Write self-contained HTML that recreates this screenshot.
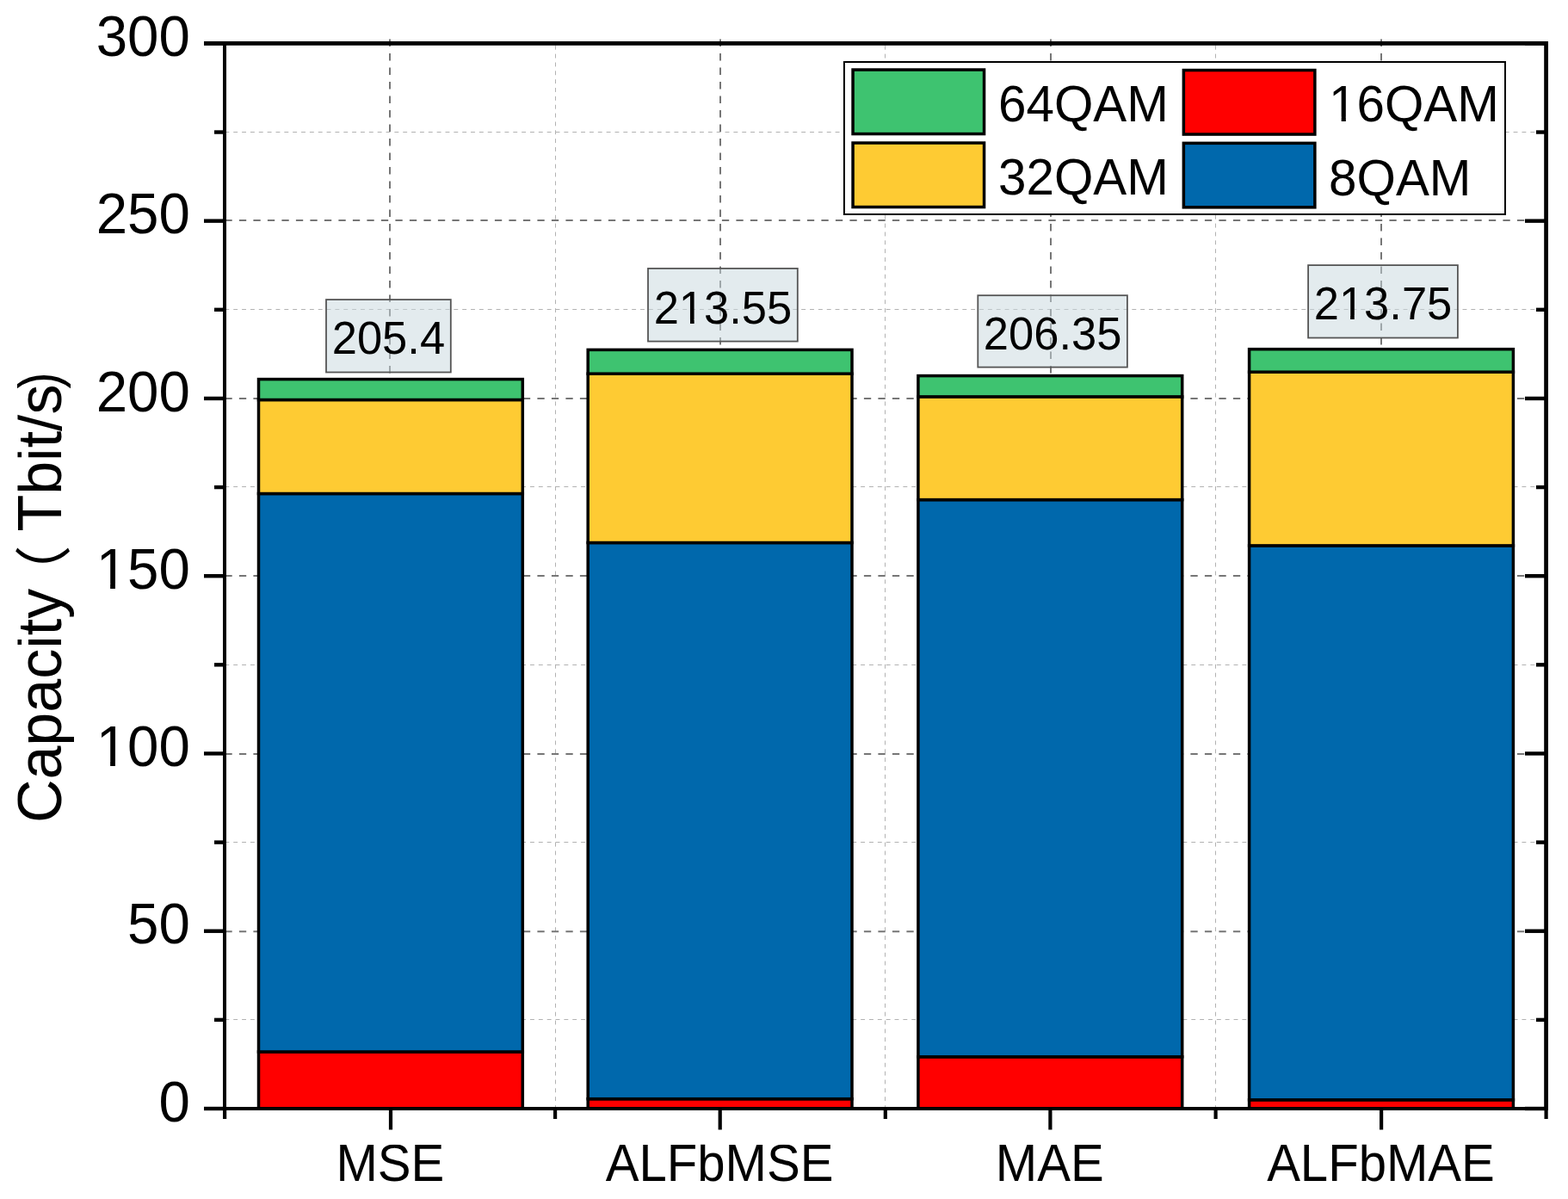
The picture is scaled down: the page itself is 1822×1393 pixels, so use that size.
<!DOCTYPE html>
<html><head><meta charset="utf-8"><title>Capacity chart</title>
<style>html,body{margin:0;padding:0;background:#fff;}svg{display:block;}</style>
</head><body>
<svg width="1822" height="1393" viewBox="0 0 1822 1393">
<rect x="0" y="0" width="1822" height="1393" fill="#fff"/>
<line x1="261.4" y1="1184.50" x2="1794.0" y2="1184.50" stroke="#b2b2b2" stroke-width="1" stroke-dasharray="4.9 4.95"/><line x1="261.4" y1="978.50" x2="1794.0" y2="978.50" stroke="#b2b2b2" stroke-width="1" stroke-dasharray="4.9 4.95"/><line x1="261.4" y1="772.50" x2="1794.0" y2="772.50" stroke="#b2b2b2" stroke-width="1" stroke-dasharray="4.9 4.95"/><line x1="261.4" y1="565.50" x2="1794.0" y2="565.50" stroke="#b2b2b2" stroke-width="1" stroke-dasharray="4.9 4.95"/><line x1="261.4" y1="359.50" x2="1794.0" y2="359.50" stroke="#b2b2b2" stroke-width="1" stroke-dasharray="4.9 4.95"/><line x1="261.4" y1="153.50" x2="1794.0" y2="153.50" stroke="#b2b2b2" stroke-width="1" stroke-dasharray="4.9 4.95"/><line x1="645.50" y1="52.8" x2="645.50" y2="1286.0" stroke="#b2b2b2" stroke-width="1" stroke-dasharray="4.9 4.95"/><line x1="1028.50" y1="52.8" x2="1028.50" y2="1286.0" stroke="#b2b2b2" stroke-width="1" stroke-dasharray="4.9 4.95"/><line x1="1412.50" y1="52.8" x2="1412.50" y2="1286.0" stroke="#b2b2b2" stroke-width="1" stroke-dasharray="4.9 4.95"/><line x1="261.4" y1="1082.30" x2="1794.0" y2="1082.30" stroke="#767676" stroke-width="2" stroke-dasharray="8.3 8.2"/><line x1="261.4" y1="876.00" x2="1794.0" y2="876.00" stroke="#767676" stroke-width="2" stroke-dasharray="8.3 8.2"/><line x1="261.4" y1="669.00" x2="1794.0" y2="669.00" stroke="#767676" stroke-width="2" stroke-dasharray="8.3 8.2"/><line x1="261.4" y1="463.00" x2="1794.0" y2="463.00" stroke="#767676" stroke-width="2" stroke-dasharray="8.3 8.2"/><line x1="261.4" y1="256.00" x2="1794.0" y2="256.00" stroke="#767676" stroke-width="2" stroke-dasharray="8.3 8.2"/><line x1="453.00" y1="45.6" x2="453.00" y2="1286.0" stroke="#767676" stroke-width="2" stroke-dasharray="8.3 8.2"/><line x1="837.00" y1="45.6" x2="837.00" y2="1286.0" stroke="#767676" stroke-width="2" stroke-dasharray="8.3 8.2"/><line x1="1221.00" y1="45.6" x2="1221.00" y2="1286.0" stroke="#767676" stroke-width="2" stroke-dasharray="8.3 8.2"/><line x1="1605.00" y1="45.6" x2="1605.00" y2="1286.0" stroke="#767676" stroke-width="2" stroke-dasharray="8.3 8.2"/>
<rect x="300.50" y="1222.00" width="306.80" height="66.00" fill="#FF0000" stroke="#000" stroke-width="3.5"/>
<rect x="300.50" y="573.50" width="306.80" height="648.50" fill="#0068AC" stroke="#000" stroke-width="3.5"/>
<rect x="300.50" y="464.50" width="306.80" height="109.00" fill="#FECB33" stroke="#000" stroke-width="3.5"/>
<rect x="300.50" y="440.60" width="306.80" height="23.90" fill="#3EC370" stroke="#000" stroke-width="3.5"/>
<rect x="683.20" y="1276.70" width="306.80" height="11.30" fill="#FF0000" stroke="#000" stroke-width="3.5"/>
<rect x="683.20" y="630.50" width="306.80" height="646.20" fill="#0068AC" stroke="#000" stroke-width="3.5"/>
<rect x="683.20" y="434.20" width="306.80" height="196.30" fill="#FECB33" stroke="#000" stroke-width="3.5"/>
<rect x="683.20" y="406.40" width="306.80" height="27.80" fill="#3EC370" stroke="#000" stroke-width="3.5"/>
<rect x="1066.90" y="1227.80" width="306.80" height="60.20" fill="#FF0000" stroke="#000" stroke-width="3.5"/>
<rect x="1066.90" y="580.60" width="306.80" height="647.20" fill="#0068AC" stroke="#000" stroke-width="3.5"/>
<rect x="1066.90" y="460.90" width="306.80" height="119.70" fill="#FECB33" stroke="#000" stroke-width="3.5"/>
<rect x="1066.90" y="436.60" width="306.80" height="24.30" fill="#3EC370" stroke="#000" stroke-width="3.5"/>
<rect x="1451.60" y="1277.80" width="306.80" height="10.20" fill="#FF0000" stroke="#000" stroke-width="3.5"/>
<rect x="1451.60" y="633.90" width="306.80" height="643.90" fill="#0068AC" stroke="#000" stroke-width="3.5"/>
<rect x="1451.60" y="432.20" width="306.80" height="201.70" fill="#FECB33" stroke="#000" stroke-width="3.5"/>
<rect x="1451.60" y="405.70" width="306.80" height="26.50" fill="#3EC370" stroke="#000" stroke-width="3.5"/>
<rect x="259" y="48" width="4" height="1242" fill="#000"/>
<rect x="1794.2" y="48" width="4.8" height="1242" fill="#000"/>
<rect x="237" y="48" width="1562" height="4.8" fill="#000"/>
<rect x="237" y="1286" width="1562" height="4" fill="#000"/>
<rect x="237" y="1285.80" width="24" height="4.4" fill="#000"/><rect x="1772" y="1285.80" width="24" height="4.4" fill="#000"/><rect x="237" y="1079.53" width="24" height="4.4" fill="#000"/><rect x="1772" y="1079.53" width="24" height="4.4" fill="#000"/><rect x="237" y="873.27" width="24" height="4.4" fill="#000"/><rect x="1772" y="873.27" width="24" height="4.4" fill="#000"/><rect x="237" y="667.00" width="24" height="4.4" fill="#000"/><rect x="1772" y="667.00" width="24" height="4.4" fill="#000"/><rect x="237" y="460.74" width="24" height="4.4" fill="#000"/><rect x="1772" y="460.74" width="24" height="4.4" fill="#000"/><rect x="237" y="254.47" width="24" height="4.4" fill="#000"/><rect x="1772" y="254.47" width="24" height="4.4" fill="#000"/><rect x="237" y="48.21" width="24" height="4.4" fill="#000"/><rect x="1772" y="48.21" width="24" height="4.4" fill="#000"/><rect x="249" y="1182.67" width="12" height="4.4" fill="#000"/><rect x="1785" y="1182.67" width="12" height="4.4" fill="#000"/><rect x="249" y="976.40" width="12" height="4.4" fill="#000"/><rect x="1785" y="976.40" width="12" height="4.4" fill="#000"/><rect x="249" y="770.14" width="12" height="4.4" fill="#000"/><rect x="1785" y="770.14" width="12" height="4.4" fill="#000"/><rect x="249" y="563.87" width="12" height="4.4" fill="#000"/><rect x="1785" y="563.87" width="12" height="4.4" fill="#000"/><rect x="249" y="357.61" width="12" height="4.4" fill="#000"/><rect x="1785" y="357.61" width="12" height="4.4" fill="#000"/><rect x="249" y="151.34" width="12" height="4.4" fill="#000"/><rect x="1785" y="151.34" width="12" height="4.4" fill="#000"/><rect x="451.90" y="1288" width="4.2" height="24.5" fill="#000"/><rect x="834.60" y="1288" width="4.2" height="24.5" fill="#000"/><rect x="1218.30" y="1288" width="4.2" height="24.5" fill="#000"/><rect x="1603.00" y="1288" width="4.2" height="24.5" fill="#000"/><rect x="259.00" y="1288" width="4.2" height="12" fill="#000"/><rect x="643.00" y="1288" width="4.2" height="12" fill="#000"/><rect x="1026.70" y="1288" width="4.2" height="12" fill="#000"/><rect x="1410.50" y="1288" width="4.2" height="12" fill="#000"/><rect x="1794.50" y="1288" width="4.2" height="12" fill="#000"/>
<text transform="translate(220.80 1302.70) scale(1 1.02)" x="0" y="0" font-family="'Liberation Sans', Arial, sans-serif" font-size="65.4" text-anchor="end" fill="#000">0</text>
<text transform="translate(220.80 1096.43) scale(1 1.02)" x="0" y="0" font-family="'Liberation Sans', Arial, sans-serif" font-size="65.4" text-anchor="end" fill="#000">50</text>
<text transform="translate(220.80 890.17) scale(1 1.02)" x="0" y="0" font-family="'Liberation Sans', Arial, sans-serif" font-size="65.4" text-anchor="end" fill="#000" clip-path="url(#c0)">100</text>
<text transform="translate(220.80 683.90) scale(1 1.02)" x="0" y="0" font-family="'Liberation Sans', Arial, sans-serif" font-size="65.4" text-anchor="end" fill="#000" clip-path="url(#c1)">150</text>
<text transform="translate(220.80 477.64) scale(1 1.02)" x="0" y="0" font-family="'Liberation Sans', Arial, sans-serif" font-size="65.4" text-anchor="end" fill="#000">200</text>
<text transform="translate(220.80 271.37) scale(1 1.02)" x="0" y="0" font-family="'Liberation Sans', Arial, sans-serif" font-size="65.4" text-anchor="end" fill="#000">250</text>
<text transform="translate(220.80 65.11) scale(1 1.02)" x="0" y="0" font-family="'Liberation Sans', Arial, sans-serif" font-size="65.4" text-anchor="end" fill="#000">300</text>
<text transform="translate(453.40 1371.70) scale(1 1.04)" x="0" y="0" font-family="'Liberation Sans', Arial, sans-serif" font-size="58.1" text-anchor="middle" fill="#000" clip-path="url(#c2)">MSE</text>
<text transform="translate(836.10 1371.70) scale(1 1.04)" x="0" y="0" font-family="'Liberation Sans', Arial, sans-serif" font-size="58.1" text-anchor="middle" fill="#000" clip-path="url(#c3)">ALFbMSE</text>
<text transform="translate(1219.80 1371.70) scale(1 1.04)" x="0" y="0" font-family="'Liberation Sans', Arial, sans-serif" font-size="58.1" text-anchor="middle" fill="#000" clip-path="url(#c4)">MAE</text>
<text transform="translate(1604.50 1371.70) scale(1 1.04)" x="0" y="0" font-family="'Liberation Sans', Arial, sans-serif" font-size="58.1" text-anchor="middle" fill="#000" clip-path="url(#c5)">ALFbMAE</text>
<rect x="379.00" y="348.10" width="144.80" height="84.40" fill="rgb(200,215,222)" fill-opacity="0.5" stroke="#555" stroke-width="1.8"/>
<text transform="translate(451.40 411.20) scale(1 1.02)" x="0" y="0" font-family="'Liberation Sans', Arial, sans-serif" font-size="52.5" text-anchor="middle" fill="#000">205.4</text>
<rect x="753.00" y="311.90" width="173.80" height="84.70" fill="rgb(200,215,222)" fill-opacity="0.5" stroke="#555" stroke-width="1.8"/>
<text transform="translate(839.90 376.00) scale(1 1.02)" x="0" y="0" font-family="'Liberation Sans', Arial, sans-serif" font-size="52.5" text-anchor="middle" fill="#000" clip-path="url(#c6)">213.55</text>
<rect x="1136.30" y="343.20" width="173.60" height="83.40" fill="rgb(200,215,222)" fill-opacity="0.5" stroke="#555" stroke-width="1.8"/>
<text transform="translate(1223.10 406.00) scale(1 1.02)" x="0" y="0" font-family="'Liberation Sans', Arial, sans-serif" font-size="52.5" text-anchor="middle" fill="#000">206.35</text>
<rect x="1520.10" y="308.10" width="173.80" height="84.40" fill="rgb(200,215,222)" fill-opacity="0.5" stroke="#555" stroke-width="1.8"/>
<text transform="translate(1607.00 371.20) scale(1 1.02)" x="0" y="0" font-family="'Liberation Sans', Arial, sans-serif" font-size="52.5" text-anchor="middle" fill="#000" clip-path="url(#c7)">213.75</text>
<rect x="980.9" y="72" width="768.1" height="177" fill="#fff" stroke="#000" stroke-width="2"/>
<rect x="991.05" y="81.05" width="152.50" height="74.50" fill="#3EC370" stroke="#000" stroke-width="3.5"/>
<text transform="translate(1160.00 141.20) scale(1 1.015)" x="0" y="0" font-family="'Liberation Sans', Arial, sans-serif" font-size="58.4" fill="#000">64QAM</text>
<rect x="991.05" y="166.05" width="152.50" height="74.50" fill="#FECB33" stroke="#000" stroke-width="3.5"/>
<text transform="translate(1160.00 226.20) scale(1 1.015)" x="0" y="0" font-family="'Liberation Sans', Arial, sans-serif" font-size="58.4" fill="#000">32QAM</text>
<rect x="1375.35" y="81.55" width="152.50" height="74.50" fill="#FF0000" stroke="#000" stroke-width="3.5"/>
<text transform="translate(1544.00 141.00) scale(1 1.015)" x="0" y="0" font-family="'Liberation Sans', Arial, sans-serif" font-size="58.4" fill="#000" clip-path="url(#c8)">16QAM</text>
<rect x="1375.35" y="166.35" width="152.50" height="74.50" fill="#0068AC" stroke="#000" stroke-width="3.5"/>
<text transform="translate(1544.00 226.50) scale(1 1.015)" x="0" y="0" font-family="'Liberation Sans', Arial, sans-serif" font-size="58.4" fill="#000">8QAM</text>
<text transform="translate(71.00 956.10) rotate(-90) scale(1 1.04)" x="0" y="0" font-family="'Liberation Sans', Arial, sans-serif" font-size="70" fill="#000" clip-path="url(#c9)">Capacity</text>
<text transform="translate(75.3 699.5) rotate(-90)" font-family="'Noto Sans CJK SC', sans-serif" font-weight="400" font-size="66" fill="#000">（</text>
<text transform="translate(71.00 617.60) rotate(-90) scale(1 1.04)" x="0" y="0" font-family="'Liberation Sans', Arial, sans-serif" font-size="70" fill="#000" clip-path="url(#c10)">Tbit/s</text>
<text transform="translate(67.7 451.5) rotate(-90) scale(0.86 1)" font-family="'Liberation Sans', Arial, sans-serif" font-size="67" fill="#000">)</text>
<defs><clipPath id="c0"><path clip-rule="evenodd" d="M-600 -300.00H600V300H-600ZM-105.63 -5.59H-92.67V2H-105.63ZM-86.89 -5.59H-74.44V2H-86.89Z"/></clipPath><clipPath id="c1"><path clip-rule="evenodd" d="M-600 -300.00H600V300H-600ZM-105.63 -5.59H-92.67V2H-105.63ZM-86.89 -5.59H-74.44V2H-86.89Z"/></clipPath><clipPath id="c2"><path clip-rule="evenodd" d="M-600 -40.32H600V300H-600Z"/></clipPath><clipPath id="c3"><path clip-rule="evenodd" d="M-600 -40.32H600V300H-600Z"/></clipPath><clipPath id="c4"><path clip-rule="evenodd" d="M-600 -40.32H600V300H-600Z"/></clipPath><clipPath id="c5"><path clip-rule="evenodd" d="M-600 -40.32H600V300H-600Z"/></clipPath><clipPath id="c6"><path clip-rule="evenodd" d="M-600 -300.00H600V300H-600ZM-48.59 -4.62H-37.89V2H-48.59ZM-33.25 -4.62H-22.96V2H-33.25Z"/></clipPath><clipPath id="c7"><path clip-rule="evenodd" d="M-600 -300.00H600V300H-600ZM-48.59 -4.62H-37.89V2H-48.59ZM-33.25 -4.62H-22.96V2H-33.25Z"/></clipPath><clipPath id="c8"><path clip-rule="evenodd" d="M-600 -300.00H600V300H-600ZM2.95 -5.06H14.69V2H2.95ZM19.84 -5.06H31.13V2H19.84Z"/></clipPath><clipPath id="c9"><path clip-rule="evenodd" d="M-600 -48.58H600V300H-600Z"/></clipPath><clipPath id="c10"><path clip-rule="evenodd" d="M-600 -48.58H600V300H-600Z"/></clipPath></defs>
</svg>
</body></html>
